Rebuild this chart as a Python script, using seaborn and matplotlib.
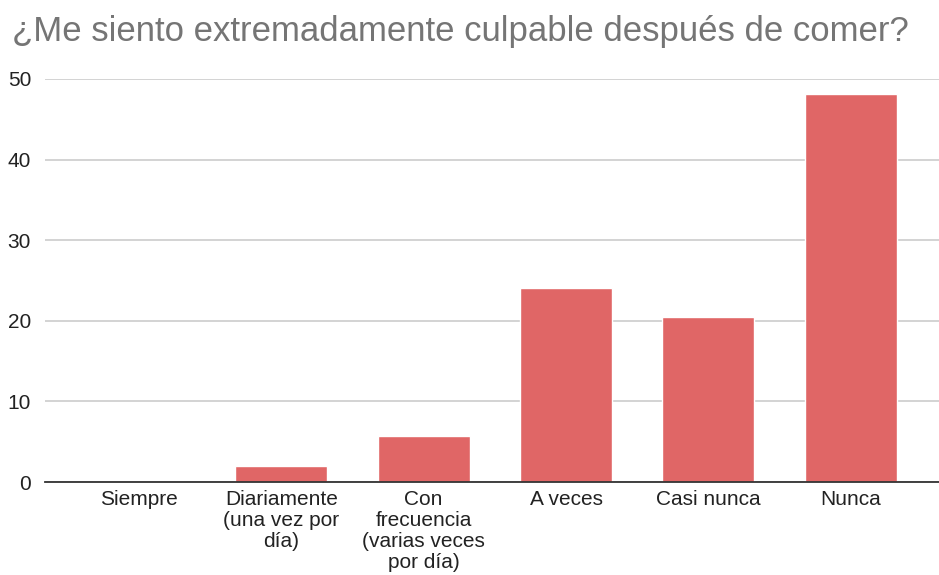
import matplotlib
matplotlib.use("Agg")
import matplotlib.pyplot as plt
import seaborn as sns
import pandas as pd

categories = ["Siempre", "Diariamente\n(una vez por\ndía)", "Con\nfrecuencia\n(varias veces\npor día)",
              "A veces", "Casi nunca", "Nunca"]
values = [0.0, 2.0, 5.7, 24.1, 20.5, 48.1]
yticks = [0, 10, 20, 30, 40, 50]
title = "¿Me siento extremadamente culpable después de comer?"

df = pd.DataFrame({"cat": categories, "val": values})

sns.set_theme(style="white")
plt.rcParams['font.family'] = ['Liberation Sans', 'DejaVu Sans']

fig = plt.figure(figsize=(9.39, 5.75), dpi=100)
ax = fig.add_axes([45/939, 1 - 482/575, 1 - 45/939, (482 - 79)/575])

sns.barplot(data=df, x="cat", y="val", order=categories, color="#e06666",
            width=0.645, saturation=1, ax=ax, zorder=3)

ax.set_ylim(0, 50)
ax.set_xlim(-0.66, 5.62)
ax.set_yticks(yticks)
ax.set_yticklabels([str(t) for t in yticks])
ax.grid(axis="y", color="#cccccc", linewidth=1.2, zorder=0)
ax.grid(axis="x", visible=False)
for s in ["top", "right", "left"]:
    ax.spines[s].set_visible(False)
ax.spines["bottom"].set_color("#333333")
ax.spines["bottom"].set_linewidth(1.3)
ax.spines["bottom"].set_zorder(4)
ax.tick_params(axis="both", length=0, labelsize=15, colors="#222222")
ax.tick_params(axis="y", pad=10)
ax.tick_params(axis="x", pad=6)
for lab in ax.get_xticklabels():
    lab.set_linespacing(1.12)
ax.set_xlabel("")
ax.set_ylabel("")

fig.text(12/939, 1 - 31/575, title, fontsize=25, color="#757575", va="center", ha="left")

fig.savefig("out.png", dpi=100)
